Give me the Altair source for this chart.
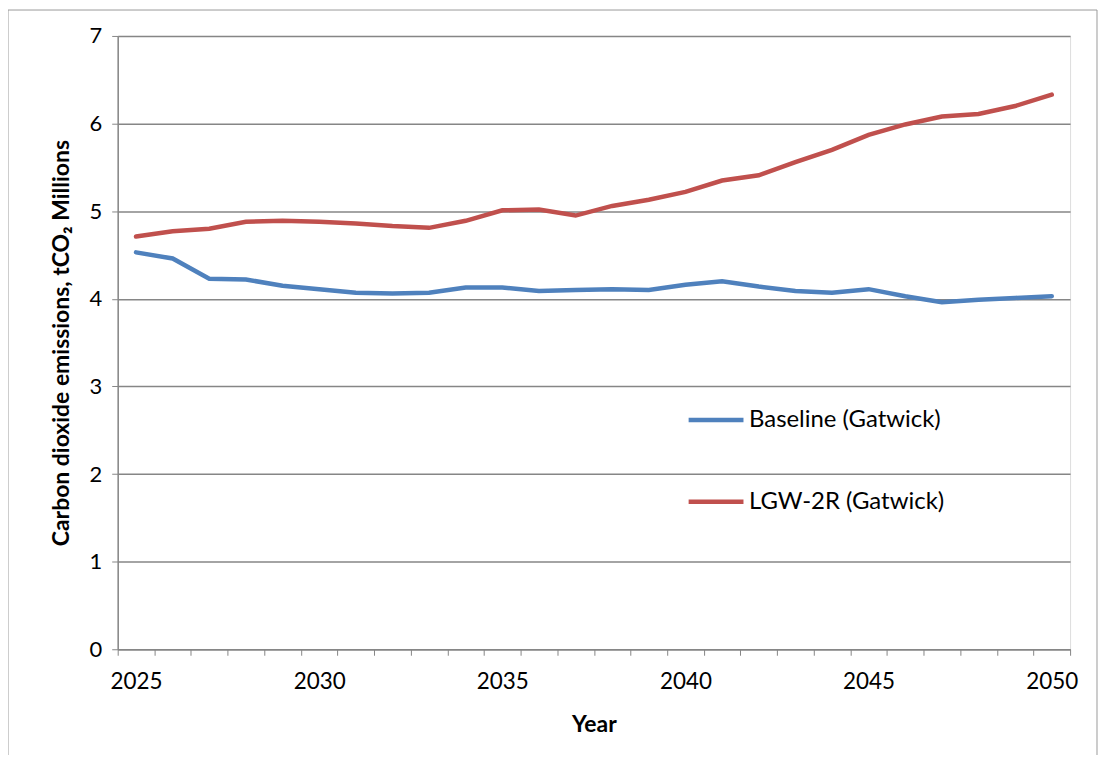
import altair as alt
import pandas as pd

years = list(range(2025, 2051))
baseline = [4.53, 4.46, 4.23, 4.22, 4.15, 4.11, 4.07, 4.06, 4.07, 4.13, 4.13, 4.09, 4.10,
            4.11, 4.10, 4.16, 4.20, 4.14, 4.09, 4.07, 4.11, 4.03, 3.96, 3.99, 4.01, 4.03]
lgw2r = [4.71, 4.77, 4.80, 4.88, 4.89, 4.88, 4.86, 4.83, 4.81, 4.89, 5.01, 5.02, 4.95,
         5.06, 5.13, 5.22, 5.35, 5.41, 5.56, 5.70, 5.87, 5.99, 6.08, 6.11, 6.20, 6.33]
series_names = ["Baseline (Gatwick)", "LGW-2R (Gatwick)"]
series_colors = ["#4F81BD", "#C0504D"]
label_years = [2025, 2030, 2035, 2040, 2045, 2050]
tick_bounds = [y - 0.5 for y in years] + [years[-1] + 0.5]

rows = []
for y, b, l in zip(years, baseline, lgw2r):
    rows.append({"Year": y, "Series": series_names[0], "Value": b})
    rows.append({"Year": y, "Series": series_names[1], "Value": l})
df = pd.DataFrame(rows)

FONT = "Lato"
W, H = 955, 615
xscale = alt.Scale(domain=[tick_bounds[0], tick_bounds[-1]], nice=False, zero=False)

frame = alt.Chart(pd.DataFrame({"a": [0]})).mark_rect(
    fill=None, stroke="#9a9a9a", strokeWidth=1, clip=False
).encode(
    x=alt.value(-110), x2=alt.value(982), y=alt.value(-26), y2=alt.value(760)
)

ticks_layer = alt.Chart(df).mark_line(opacity=0).encode(
    x=alt.X("Year:Q", scale=xscale,
            axis=alt.Axis(values=tick_bounds, labels=False, title=None, grid=False,
                          orient="bottom", domainColor="#868686", tickColor="#868686",
                          tickSize=6, domainWidth=1.5)),
    y=alt.Y("Value:Q", scale=alt.Scale(domain=[0, 7], nice=False),
            axis=alt.Axis(values=[0, 1, 2, 3, 4, 5, 6, 7], format="d",
                          gridColor="#868686", gridWidth=1.5,
                          domainColor="#868686", domainWidth=1.5, tickColor="#868686", tickSize=6,
                          labelFont=FONT, labelFontSize=22, labelColor="black", labelPadding=10,
                          title="Carbon dioxide emissions, tCO₂ Millions",
                          titleFont=FONT, titleFontSize=23, titleFontWeight="bold",
                          titleColor="black", titlePadding=16)),
)

lines = alt.Chart(df).mark_line(strokeWidth=4.5, strokeCap="round").encode(
    x=alt.X("Year:Q", scale=xscale,
            axis=alt.Axis(values=label_years, format="d", ticks=False, domain=False, grid=False,
                          orient="bottom", labelFont=FONT, labelFontSize=22.5, labelColor="black",
                          labelPadding=21, title="Year", titleFont=FONT, titleFontSize=23,
                          titleFontWeight="bold", titleColor="black", titlePadding=21)),
    y=alt.Y("Value:Q"),
    color=alt.Color("Series:N", scale=alt.Scale(domain=series_names, range=series_colors),
                    legend=alt.Legend(orient="none", legendX=570, legendY=355, title=None,
                                      symbolType="stroke", symbolSize=3025, symbolStrokeWidth=4.5,
                                      labelFont=FONT, labelFontSize=24, labelColor="black",
                                      labelLimit=0, rowPadding=40, labelOffset=3)),
)

chart = alt.layer(frame, ticks_layer, lines).resolve_axis(x="independent").properties(
    width=W, height=H,
    autosize=alt.AutoSizeParams(type="none"),
    padding={"left": 110, "top": 27, "right": 30, "bottom": 105},
).configure_view(stroke=None).configure(background="white")

chart.save("out.html", embed_options={"renderer": "svg", "actions": False})
